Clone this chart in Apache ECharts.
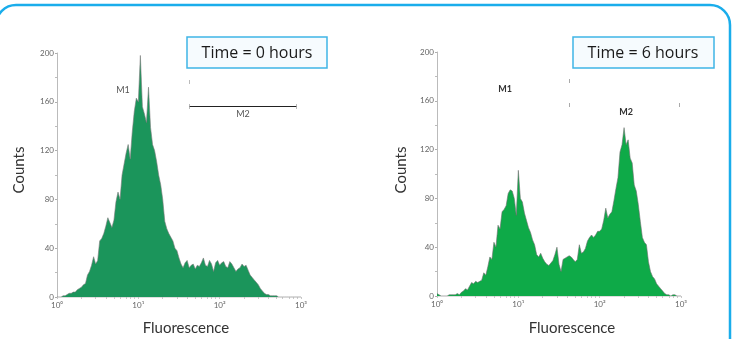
<!DOCTYPE html>
<html><head><meta charset="utf-8">
<script src="https://cdn.jsdelivr.net/npm/echarts@6/dist/echarts.min.js"></script>
<style>html,body{margin:0;padding:0;background:#fff}#c{width:732px;height:339px}</style>
</head><body><div id="c"></div>
<script>
// Tick labels (log fluorescence decades)
const xTickLabels = ['10⁰', '10¹', '10²', '10³'];
const yTicks = [0, 40, 80, 120, 160, 200];
// Histogram channels (120 bins across 3 decades)
const channels = Array.from({length: 121}, (_, i) => i);
// Counts per channel, Time = 0 hours
const countsT0 = [0,0,0,1,1,2,3,3,4,4,6,7,8,10,11,18,21,26,33,27,
  30,46,48,52,58,65,61,57,63,78,86,80,100,109,118,125,113,135,152,163,
  160,198,156,150,143,172,139,125,120,111,100,92,80,62,56,52,49,46,40,38,
  32,27,24,28,30,24,26,27,23,26,25,28,32,26,25,30,27,21,28,30,
  26,28,29,25,24,29,27,24,21,23,24,27,25,26,22,18,16,14,12,10,
  7,5,3,2,2,1,1,1,1,0,0,0,0,0,0,0,0,0,0,0,0];
// Counts per channel, Time = 6 hours
const countsT6 = [2,1,0,0,0,0,1,1,1,1,2,1,3,4,6,5,8,11,10,12,
  11,12,13,19,17,24,32,30,44,40,58,55,69,71,74,84,87,86,80,66,
  103,80,77,68,62,56,52,46,42,34,32,35,31,28,26,25,27,29,34,40,
  26,20,30,31,32,33,32,30,28,30,42,35,36,39,45,48,50,48,50,53,
  53,55,62,72,64,67,69,78,88,97,118,124,138,124,128,113,109,91,86,75,
  61,48,44,42,28,20,16,14,10,8,6,4,2,1,1,0,1,1,0,0,0];
const titles = ['Time = 0 hours', 'Time = 6 hours'];
const markerLabels = ['M1', 'M2'];

const majorEvery = 40;
const tickSet = new Set();
for (let d = 0; d < 3; d++) {
  for (let k = 1; k <= 9; k++) tickSet.add(d * majorEvery + Math.round(majorEvery * Math.log10(k)));
}
tickSet.add(120);

const FONT = 'Lato, "Open Sans", sans-serif';
const TFONT = '"Open Sans", Lato, sans-serif';
function xAxisFor(gi) {
  return {
    type: 'category', gridIndex: gi, data: channels, boundaryGap: false,
    axisLine: {show: true, lineStyle: {color: '#d6d6d6', width: 0.8}},
    axisTick: {show: true, interval: (i) => tickSet.has(i), length: 2, lineStyle: {color: '#bbb', width: 0.8}},
    axisLabel: {interval: (i) => i % majorEvery === 0, formatter: (v, i) => xTickLabels[i / majorEvery] || '',
      fontSize: 8, color: '#666', margin: 4, fontFamily: FONT},
    splitLine: {show: false}
  };
}
function yAxisFor(gi) {
  return {
    type: 'value', gridIndex: gi, min: yTicks[0], max: yTicks[yTicks.length - 1], interval: 40,
    axisLine: {show: true, lineStyle: {color: '#aaa', width: 0.8}},
    axisTick: {show: true, length: 2, lineStyle: {color: '#999', width: 0.8}},
    minorTick: {show: true, splitNumber: 2, length: 2, lineStyle: {color: '#bbb'}},
    axisLabel: {fontSize: 8, color: '#666', margin: 3, fontFamily: FONT},
    splitLine: {show: false}
  };
}
const chart = echarts.init(document.getElementById('c'), null, {renderer: 'canvas'});
const txt = (x, y, s, size, color, weight, rot, fam) => ({
  type: 'text', x: x, y: y, rotation: rot || 0, z: 10,
  style: {text: s, fill: color, font: (weight || 'normal') + ' ' + size + 'px ' + (fam || FONT), align: 'center', verticalAlign: 'middle'}
});
const seg = (x1, y1, x2, y2, color, w) => ({type: 'line', z: 10, shape: {x1, y1, x2, y2}, style: {stroke: color, lineWidth: w}});
const box = (x, y, w, h) => ({type: 'rect', z: 9, shape: {x, y, width: w, height: h}, style: {fill: '#f6fbfe', stroke: '#3fb5e6', lineWidth: 1.5}});

chart.setOption({
  animation: false,
  grid: [
    {left: 57, top: 53, width: 244, height: 244},
    {left: 437, top: 52, width: 244, height: 244}
  ],
  xAxis: [xAxisFor(0), xAxisFor(1)],
  yAxis: [yAxisFor(0), yAxisFor(1)],
  series: [
    {type: 'line', xAxisIndex: 0, yAxisIndex: 0, data: countsT0, symbol: 'none',
      lineStyle: {color: '#7a7a7a', width: 0.6}, areaStyle: {color: '#1b955b', opacity: 1}},
    {type: 'line', xAxisIndex: 1, yAxisIndex: 1, data: countsT6, symbol: 'none',
      lineStyle: {color: '#6e6e6e', width: 0.6}, areaStyle: {color: '#0eaa48', opacity: 1}}
  ],
  graphic: [
    {type: 'rect', z: 1, shape: {x: -4, y: 5, width: 734, height: 400, r: 20}, style: {fill: 'none', stroke: '#1aadeb', lineWidth: 2.5}},
    box(187, 37, 140, 31), txt(257, 53, titles[0], 16, '#1a1a1a', 'normal', 0, TFONT),
    box(573, 37, 141, 31), txt(643, 53, titles[1], 16, '#1a1a1a', 'normal', 0, TFONT),
    txt(19, 170, 'Counts', 15, '#333', 'normal', Math.PI / 2),
    txt(401, 170, 'Counts', 15, '#333', 'normal', Math.PI / 2),
    txt(186, 328, 'Fluorescence', 15, '#333', 'normal'),
    txt(572, 328, 'Fluorescence', 15, '#333', 'normal'),
    // gate markers, left
    txt(123, 90, markerLabels[0], 9, '#555', 'normal'),
    seg(189.5, 80, 189.5, 84, '#bbb', 1),
    seg(189, 106.5, 297, 106.5, '#222', 1),
    seg(189.5, 104, 189.5, 109, '#aaa', 0.8),
    seg(296.5, 104, 296.5, 109, '#aaa', 0.8),
    txt(243, 114, markerLabels[1], 9, '#555', 'normal'),
    // gate markers, right
    txt(505, 89, markerLabels[0], 9, '#333', 'bold'),
    seg(569.5, 79, 569.5, 83, '#aaa', 1),
    seg(569.5, 103, 569.5, 107, '#aaa', 1),
    seg(679.5, 103, 679.5, 107, '#aaa', 1),
    txt(626, 112, markerLabels[1], 9, '#333', 'bold')
  ]
});
</script></body></html>
